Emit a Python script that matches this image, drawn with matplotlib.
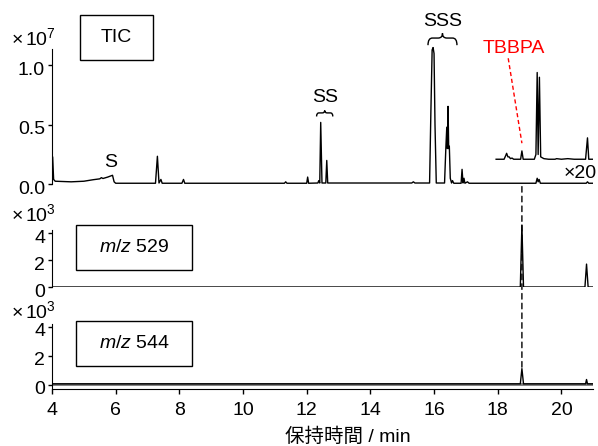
import numpy as np
import matplotlib.pyplot as plt
import matplotlib.transforms as mtransforms
from matplotlib.path import Path
from matplotlib.patches import PathPatch, Rectangle, ConnectionPatch

plt.rcParams['font.family'] = ['Liberation Sans', 'Noto Sans CJK JP']
plt.rcParams['mathtext.fontset'] = 'custom'
plt.rcParams['mathtext.rm'] = 'Liberation Sans'
plt.rcParams['mathtext.it'] = 'Liberation Sans:italic'
plt.rcParams['font.size'] = 14

# TIC trace (x 1e7), key points
tic_time = [4.00, 4.02, 4.05, 4.10, 4.60, 5.00, 5.30, 5.50, 5.55, 5.60, 5.75, 5.90, 5.95, 6.00,
            7.25, 7.31, 7.36, 7.42, 7.46, 8.08, 8.13, 8.17, 11.30, 11.34, 11.38,
            12.00, 12.03, 12.06, 12.35, 12.38, 12.41, 12.44, 12.48, 12.60, 12.63, 12.66,
            13.20, 15.30, 15.35, 15.40, 15.86, 15.90, 15.94, 15.97, 16.00, 16.03, 16.07,
            16.33, 16.37, 16.40, 16.42, 16.44, 16.46, 16.48, 16.51, 16.55, 16.58, 16.62,
            16.85, 16.88, 16.91, 16.94, 16.97, 17.05, 17.10, 19.20, 19.24, 19.27, 19.30,
            19.34, 20.78, 20.82, 20.86, 21.00]
tic_signal = [0.03, 0.23, 0.04, 0.025, 0.02, 0.025, 0.038, 0.045, 0.055, 0.048, 0.06, 0.075, 0.02, 0.008,
              0.008, 0.235, 0.01, 0.04, 0.008, 0.008, 0.04, 0.008, 0.008, 0.02, 0.008,
              0.008, 0.06, 0.008, 0.01, 0.03, 0.01, 0.52, 0.01, 0.01, 0.2, 0.01,
              0.01, 0.01, 0.02, 0.01, 0.01, 0.6, 1.13, 1.15, 1.1, 0.5, 0.01,
              0.01, 0.3, 0.48, 0.3, 0.655, 0.3, 0.32, 0.05, 0.01, 0.03, 0.008,
              0.008, 0.125, 0.01, 0.05, 0.008, 0.02, 0.008, 0.008, 0.05, 0.02, 0.04,
              0.008, 0.008, 0.02, 0.008, 0.008]

# x20 magnified tail of the TIC (drawn with an offset)
zoom_time = [17.95, 18.20, 18.25, 18.28, 18.32, 18.36, 18.40, 18.45, 18.50, 18.72, 18.76, 18.80,
             19.15, 19.20, 19.24, 19.27, 19.31, 19.35, 19.45, 19.60, 19.80, 19.85, 20.00,
             20.20, 20.40, 20.76, 20.82, 20.86, 21.00]
zoom_signal = [0.21, 0.21, 0.24, 0.26, 0.23, 0.23, 0.215, 0.22, 0.21, 0.21, 0.28, 0.21,
               0.21, 0.25, 0.94, 0.25, 0.90, 0.23, 0.215, 0.21, 0.21, 0.215, 0.21,
               0.215, 0.21, 0.21, 0.39, 0.21, 0.21]

# m/z 529 (x 1e3)
mz529_time = [4.0, 18.71, 18.76, 18.81, 20.74, 20.79, 20.84, 21.0]
mz529_signal = [0.0, 0.0, 4.6, 0.0, 0.0, 1.7, 0.0, 0.0]

# m/z 544 (x 1e3)
mz544_time = [4.0, 18.71, 18.76, 18.81, 20.76, 20.79, 20.82, 21.0]
mz544_signal = [0.05, 0.05, 1.1, 0.05, 0.05, 0.35, 0.05, 0.05]

xticks = [4, 6, 8, 10, 12, 14, 16, 18, 20]
tbbpa_rt = 18.76


def brace(ax, x0, x1, yb, ym, yt):
    xm = (x0 + x1) / 2
    q = (x1 - x0) * 0.15
    verts = [(x0, yb), (x0, ym), (x0 + q, ym), (xm - q, ym), (xm, ym), (xm, yt),
             (xm, ym), (xm + q, ym), (x1 - q, ym), (x1, ym), (x1, yb)]
    codes = [Path.MOVETO, Path.CURVE3, Path.CURVE3, Path.LINETO, Path.CURVE3, Path.CURVE3,
             Path.CURVE3, Path.CURVE3, Path.LINETO, Path.CURVE3, Path.CURVE3]
    ax.add_patch(PathPatch(Path(verts, codes), fill=False, lw=1.0, color='black', clip_on=False))


fig = plt.figure(figsize=(5.98, 4.46), dpi=100)
ax1 = fig.add_axes([0.087, 0.587, 0.905, 0.341])
ax2 = fig.add_axes([0.087, 0.3565, 0.905, 0.151])
ax3 = fig.add_axes([0.087, 0.128, 0.905, 0.159])

# y tick labels sit a little below their ticks in the reference
shift = mtransforms.ScaledTranslation(0, -0.03, fig.dpi_scale_trans)

for ax in (ax1, ax2, ax3):
    ax.set_xlim(4, 21)
    ax.spines['top'].set_visible(False)
    ax.spines['right'].set_visible(False)
    ax.tick_params(axis='y', direction='out', length=3, width=1, pad=2)
    ax.patch.set_alpha(0)
for ax in (ax1, ax2):
    ax.spines['bottom'].set_visible(False)
    ax.set_xticks([])

ax1.plot(tic_time, tic_signal, color='black', lw=1.0)
ax1.plot(zoom_time, zoom_signal, color='black', lw=1.0)
ax1.set_ylim(0, 1.28)
ax1.set_yticks([0, 0.5, 1.0])
ax1.set_yticklabels(['0.0', '0.5', '1.0'])
ax1.spines['left'].set_bounds(0, 1.14)

ax2.plot(mz529_time, mz529_signal, color='black', lw=1.0)
ax2.set_ylim(0, 5.0)
ax2.set_yticks([0, 2, 4])
ax2.spines['left'].set_bounds(0, 4.2)

ax3.axhline(0.05, color='#777777', lw=2.0)
ax3.plot(mz544_time, mz544_signal, color='black', lw=1.0)
ax3.set_ylim(-0.3, 4.6)
ax3.set_yticks([0, 2, 4])
ax3.spines['left'].set_bounds(-0.3, 4.2)
ax3.set_xticks(xticks)
ax3.tick_params(axis='x', direction='out', length=3.5, width=1, pad=6)

for ax in (ax1, ax2, ax3):
    for lab in ax.get_yticklabels():
        lab.set_transform(lab.get_transform() + shift)

# annotations
ax1.text(5.83, 0.18, 'S', ha='center', va='center')
ax1.text(12.58, 0.73, 'SS', ha='center', va='center')
brace(ax1, 12.31, 12.82, 0.57, 0.60, 0.62)
ax1.text(16.27, 1.37, 'SSS', ha='center', va='center', clip_on=False)
brace(ax1, 15.81, 16.72, 1.17, 1.23, 1.27)
ax1.text(18.52, 1.14, 'TBBPA', color='red', ha='center', va='center')
ax1.plot([18.33, 18.76], [1.06, 0.345], color='red', lw=1.0, ls=(0, (3, 2)))
ax1.text(20.08, 0.09, '×20', ha='left', va='center', clip_on=False)

con = ConnectionPatch(xyA=(tbbpa_rt, -0.02), coordsA=ax1.transData,
                      xyB=(tbbpa_rt, 1.1), coordsB=ax3.transData,
                      color='black', lw=1.0, ls=(0, (4, 3)))
fig.add_artist(con)

# scale labels
fig.text(11 / 598, 1 - 38 / 446, r'$\mathregular{\times\,10^{7}}$', ha='left', va='center')
fig.text(11 / 598, 1 - 214 / 446, r'$\mathregular{\times\,10^{3}}$', ha='left', va='center')
fig.text(11 / 598, 1 - 311 / 446, r'$\mathregular{\times\,10^{3}}$', ha='left', va='center')

# label boxes
boxes = [((80, 15, 153, 60), 'TIC'),
         ((76, 225, 192, 270), r'$\mathit{m/z}$ 529'),
         ((76, 321, 192, 366), r'$\mathit{m/z}$ 544')]
for (x0, y0, x1, y1), label in boxes:
    fig.add_artist(Rectangle((x0 / 598, 1 - y1 / 446), (x1 - x0) / 598, (y1 - y0) / 446,
                             transform=fig.transFigure, fill=False, lw=1.0, ec='black'))
    fig.text((x0 + x1) / 2 / 598, 1 - (y0 + y1) / 2 / 446, label, ha='center', va='center')

fig.text(348 / 598, 1 - 437 / 446, '保持時間 / min', ha='center', va='center')

fig.savefig('out.png', dpi=100)
